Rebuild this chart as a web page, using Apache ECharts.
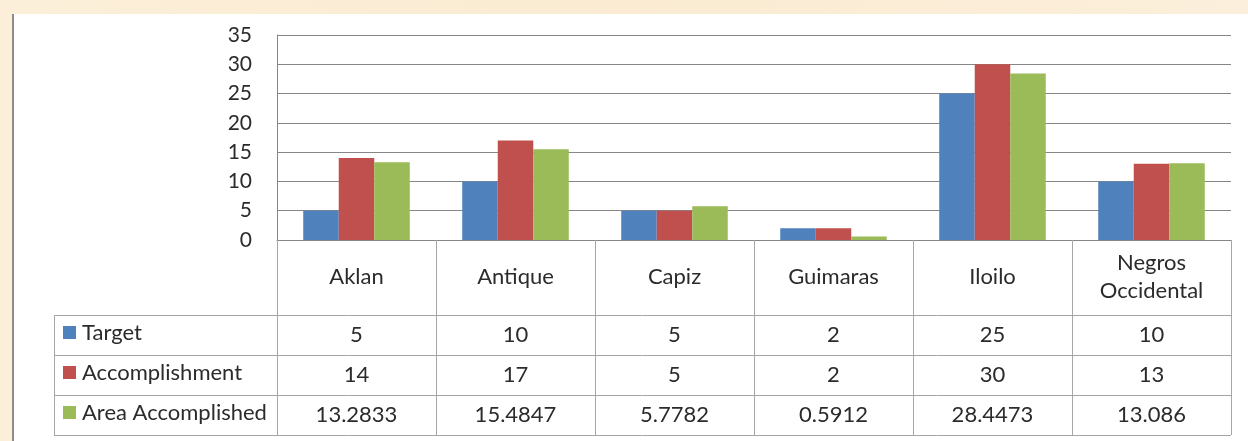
<!DOCTYPE html>
<html>
<head>
<meta charset="utf-8">
<script src="https://cdn.jsdelivr.net/npm/echarts@6/dist/echarts.min.js"></script>
<style>
  html, body { margin: 0; padding: 0; }
  body {
    width: 1248px; height: 441px; position: relative; overflow: hidden;
    background: linear-gradient(90deg, #fcefd9 0%, #faebd2 50%, #fcefdb 100%);
  }
  .panel {
    position: absolute; left: 12px; top: 14px; right: 0; bottom: 0;
    background: #fff; border-left: 2px solid #8c8c8c;
  }
  #chart { position: absolute; left: 0; top: 0; width: 1248px; height: 441px; }
</style>
</head>
<body>
<div class="panel"></div>
<div id="chart"></div>
<script>
var categories = ["Aklan", "Antique", "Capiz", "Guimaras", "Iloilo", "Negros Occidental"];
var target = [5, 10, 5, 2, 25, 10];
var accomplishment = [14, 17, 5, 2, 30, 13];
var areaAccomplished = [13.2833, 15.4847, 5.7782, 0.5912, 28.4473, 13.086];
var seriesNames = ["Target", "Accomplishment", "Area Accomplished"];
var seriesColors = ["#4f81bd", "#c0504d", "#9bbb59"];

var FONT = "Lato, 'Open Sans', sans-serif";
var textColor = "#2b2b2b";
var tableLine = "#a6a6a6";

var mycharts = echarts.init(document.getElementById("chart"), null, { renderer: "canvas" });

var allData = [target, accomplishment, areaAccomplished];

mycharts.setOption({
  animation: false,
  grid: {
    left: 277,
    right: 17,
    top: 35,
    bottom: 201,
    containLabel: false
  },
  xAxis: {
    type: "category",
    data: categories,
    boundaryGap: true,
    axisLine: { lineStyle: { color: "#868686", width: 1 } },
    axisTick: {
      show: true,
      length: 195,
      lineStyle: { color: tableLine, width: 1 }
    },
    axisLabel: {
      color: textColor,
      fontFamily: FONT,
      fontSize: 22,
      margin: 37,
      verticalAlign: "middle",
      lineHeight: 28,
      interval: 0,
      formatter: function (v) {
        return v.replace(" ", "\n");
      }
    }
  },
  yAxis: {
    type: "value",
    min: 0,
    max: 35,
    interval: 5,
    axisLine: { show: true, lineStyle: { color: "#868686" } },
    axisTick: { show: false },
    splitLine: { lineStyle: { color: "#868686", width: 1 } },
    axisLabel: {
      color: textColor,
      fontFamily: FONT,
      fontSize: 21,
      margin: 25
    }
  },
  series: seriesNames.map(function (name, i) {
    return {
      name: name,
      type: "bar",
      data: allData[i],
      barGap: "0%",
      barCategoryGap: "33%",
      itemStyle: { color: seriesColors[i] }
    };
  })
});

// data table under the axis, columns taken from the category axis
function drawTable() {
  var tableLeft = 54;
  var headerBottom = 315;
  var rowH = 40;
  var gridRight = 1248 - 17;
  var els = [];

  for (var r = 0; r <= seriesNames.length; r++) {
    var y = headerBottom + r * rowH;
    els.push({
      type: "line",
      shape: { x1: tableLeft, y1: y + 0.5, x2: gridRight, y2: y + 0.5 },
      style: { stroke: tableLine, lineWidth: 1 }
    });
  }
  els.push({
    type: "line",
    shape: { x1: tableLeft + 0.5, y1: headerBottom, x2: tableLeft + 0.5, y2: headerBottom + rowH * seriesNames.length },
    style: { stroke: tableLine, lineWidth: 1 }
  });

  seriesNames.forEach(function (name, r) {
    var cy = headerBottom + r * rowH + rowH / 2;
    els.push({
      type: "rect",
      shape: { x: 63, y: cy - 9, width: 13, height: 13 },
      style: { fill: seriesColors[r] }
    });
    els.push({
      type: "text",
      style: {
        text: name, x: 82, y: cy - 2,
        textAlign: "left", textVerticalAlign: "middle",
        fill: textColor, font: "22px " + FONT
      }
    });
    allData[r].forEach(function (v, c) {
      var cx = mycharts.convertToPixel({ xAxisIndex: 0 }, categories[c]);
      els.push({
        type: "text",
        style: {
          text: String(v), x: cx, y: cy,
          textAlign: "center", textVerticalAlign: "middle",
          fill: textColor, font: "22px " + FONT
        }
      });
    });
  });

  mycharts.setOption({ graphic: { elements: els } });
}

drawTable();
</script>
</body>
</html>
